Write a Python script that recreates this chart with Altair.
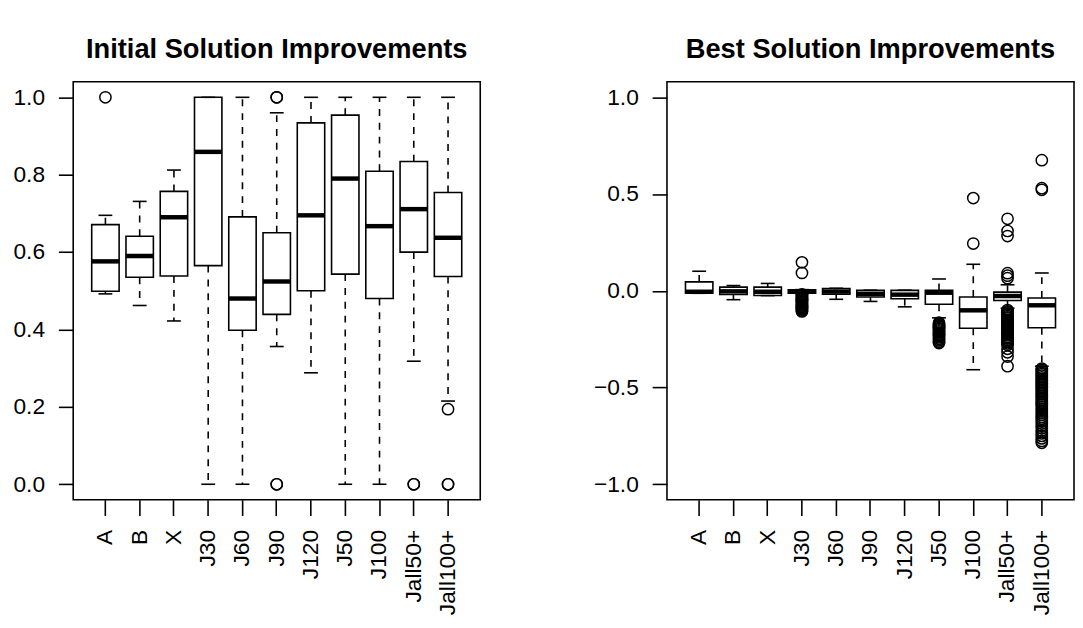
import altair as alt
import pandas as pd

cats = ["A", "B", "X", "J30", "J60", "J90", "J120", "J50", "J100", "Jall50+", "Jall100+"]

# ---- Initial Solution Improvements (box statistics) ----
init_lo = [0.492, 0.462, 0.422, 0.0, 0.0, 0.356, 0.288, 0.0, 0.0, 0.318, 0.215]
init_q1 = [0.499, 0.535, 0.538, 0.565, 0.398, 0.439, 0.500, 0.543, 0.480, 0.600, 0.537]
init_med = [0.576, 0.590, 0.690, 0.859, 0.480, 0.524, 0.695, 0.790, 0.667, 0.711, 0.637]
init_q3 = [0.671, 0.641, 0.757, 1.0, 0.691, 0.650, 0.934, 0.954, 0.809, 0.834, 0.754]
init_hi = [0.695, 0.731, 0.812, 1.0, 1.0, 0.960, 1.0, 1.0, 1.0, 1.0, 1.0]

init_out_cat = ["A", "J90", "J90", "J90", "J90", "Jall50+", "Jall50+",
                "Jall100+", "Jall100+", "Jall100+"]
init_out_val = [1.0, 1.0, 1.0, 0.0, 0.0, 0.0, 0.0,
                0.194, 0.0, 0.0]

# ---- Best Solution Improvements (box statistics) ----
best_lo = [-0.013, -0.046, -0.025, -0.014, -0.044, -0.055, -0.083, -0.140, -0.408, -0.090, -0.390]
best_q1 = [-0.012, -0.019, -0.024, -0.012, -0.018, -0.032, -0.041, -0.070, -0.194, -0.050, -0.191]
best_med = [-0.005, -0.003, -0.005, -0.002, -0.004, -0.016, -0.020, -0.010, -0.101, -0.027, -0.075]
best_q3 = [0.046, 0.019, 0.019, 0.005, 0.012, 0.002, 0.002, 0.002, -0.032, -0.007, -0.037]
best_hi = [0.101, 0.027, 0.038, 0.006, 0.013, 0.003, 0.003, 0.061, 0.137, 0.031, 0.092]

j30_out = [0.147, 0.092, -0.018, -0.022, -0.026, -0.031, -0.035, -0.040, -0.044, -0.049,
           -0.053, -0.058, -0.062, -0.067, -0.071, -0.076, -0.080, -0.085, -0.089,
           -0.094, -0.098, -0.103, -0.107]
j50_out = [-0.165, -0.170, -0.176, -0.181, -0.187, -0.193, -0.198, -0.204, -0.210,
           -0.216, -0.222, -0.228, -0.234, -0.241, -0.248, -0.256, -0.263, -0.270]
j100_out = [0.479, 0.244]
jall50_out = [0.372, 0.309, 0.283, 0.091, 0.078, 0.065,
              -0.100, -0.106, -0.112, -0.118, -0.124, -0.131, -0.137, -0.143, -0.150,
              -0.156, -0.163, -0.169, -0.176, -0.182, -0.189, -0.196, -0.203, -0.210,
              -0.217, -0.224, -0.231, -0.239, -0.247, -0.255, -0.263, -0.272, -0.280,
              -0.300, -0.318, -0.340, -0.390]
jall100_out = [0.675, 0.530, 0.522,
               -0.402, -0.409, -0.416, -0.424, -0.431, -0.439, -0.447, -0.455, -0.463,
               -0.471, -0.479, -0.487, -0.495, -0.503, -0.511, -0.519, -0.527, -0.536,
               -0.545, -0.554, -0.563, -0.572, -0.581, -0.590, -0.600, -0.610, -0.620,
               -0.630, -0.641, -0.652, -0.663, -0.674, -0.686, -0.698, -0.711, -0.724,
               -0.737, -0.750, -0.763, -0.776, -0.786]

best_out_cat = (["J30"] * len(j30_out) + ["J50"] * len(j50_out) + ["J100"] * len(j100_out)
                + ["Jall50+"] * len(jall50_out) + ["Jall100+"] * len(jall100_out))
best_out_val = j30_out + j50_out + j100_out + jall50_out + jall100_out

FONT = "Liberation Sans"
LW = 1.6


def panel(title, lo, q1, med, q3, hi, out_cat, out_val, domain, ticks):
    stats = pd.DataFrame({"cat": cats, "lo": lo, "q1": q1, "med": med, "q3": q3, "hi": hi})
    outl = pd.DataFrame({"cat": out_cat, "val": out_val})
    xenc = alt.X(
        "cat:N", sort=cats, title=None,
        scale=alt.Scale(paddingInner=0.2, paddingOuter=0.54),
        axis=alt.Axis(labelAngle=270, labelAlign="right", labelBaseline="middle",
                      tickSize=16, labelPadding=14, domain=False,
                      labelFont=FONT, labelFontSize=23, labelColor="black",
                      tickColor="black", tickWidth=LW),
    )
    ysc = alt.Scale(domain=domain, nice=False, zero=False)
    yax = alt.Axis(values=ticks, format=".1f", tickSize=15, labelPadding=14,
                   domain=False, grid=False, labelFlush=False, labelOverlap=False,
                   labelFont=FONT, labelFontSize=23, labelColor="black",
                   tickColor="black", tickWidth=LW)

    base = alt.Chart(stats).encode(x=xenc)
    lower = base.mark_rule(color="black", strokeWidth=LW, strokeDash=[7, 7]).encode(
        y=alt.Y("q1:Q", scale=ysc, axis=yax, title=None), y2="lo:Q")
    upper = base.mark_rule(color="black", strokeWidth=LW, strokeDash=[7, 7]).encode(
        y=alt.Y("q3:Q", scale=ysc, title=None), y2="hi:Q")
    box = base.mark_bar(fill="white", stroke="black", strokeWidth=LW).encode(
        y=alt.Y("q1:Q", scale=ysc, title=None), y2="q3:Q")
    medl = base.mark_tick(color="black", thickness=4.5, size=28, opacity=1).encode(
        y=alt.Y("med:Q", scale=ysc, title=None))
    st_lo = base.mark_tick(color="black", thickness=LW, size=14, opacity=1).encode(
        y=alt.Y("lo:Q", scale=ysc, title=None))
    st_hi = base.mark_tick(color="black", thickness=LW, size=14, opacity=1).encode(
        y=alt.Y("hi:Q", scale=ysc, title=None))
    pts = alt.Chart(outl).mark_point(shape="circle", filled=False, size=130,
                                     strokeWidth=1.5, color="black", opacity=1).encode(
        x=xenc, y=alt.Y("val:Q", scale=ysc, title=None))

    return alt.layer(lower, upper, box, medl, st_lo, st_hi, pts).properties(
        width=412, height=423,
        title=alt.TitleParams(title, font=FONT, fontSize=27.6, fontWeight="bold",
                              color="black", anchor="middle", frame="group", offset=19),
    )


left = panel("Initial Solution Improvements", init_lo, init_q1, init_med, init_q3, init_hi,
             init_out_cat, init_out_val, [-0.04, 1.04], [0, 0.2, 0.4, 0.6, 0.8, 1.0])
right = panel("Best Solution Improvements", best_lo, best_q1, best_med, best_q3, best_hi,
              best_out_cat, best_out_val, [-1.08, 1.08], [-1.0, -0.5, 0.0, 0.5, 1.0])

chart = alt.hconcat(left, right, spacing=112).properties(
    padding={"left": 4, "top": 23, "right": 0, "bottom": 0},
    background="white",
).configure_view(
    stroke="black", strokeWidth=LW
).configure_axis(
    labelFont=FONT, labelFontSize=23, labelColor="black",
    tickColor="black", tickWidth=LW, grid=False
)

chart.save("out.html", embed_options={"renderer": "svg", "actions": False})
